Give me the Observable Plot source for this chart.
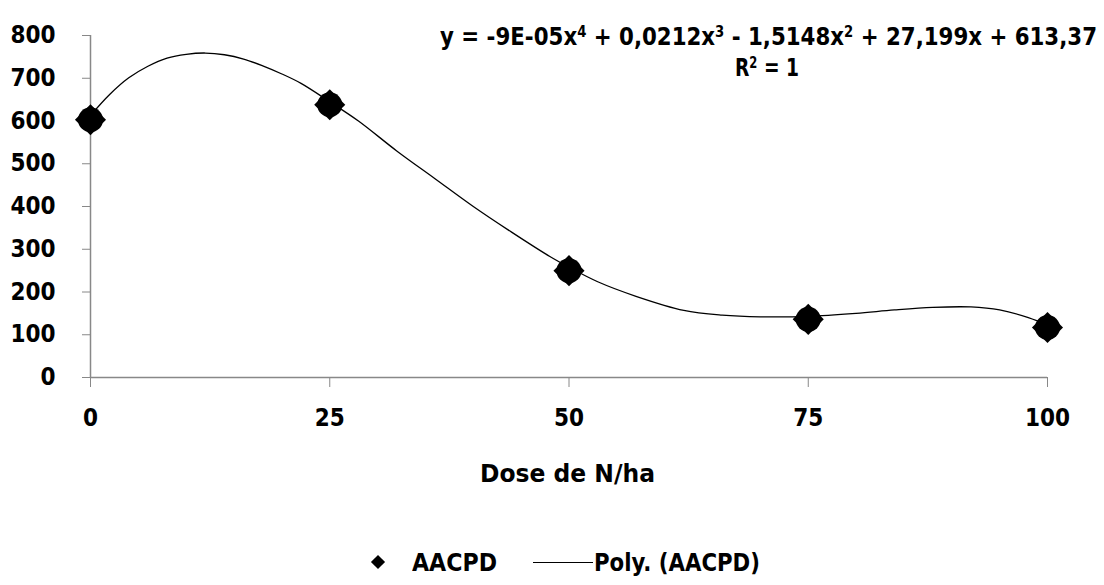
<!DOCTYPE html>
<html><head><meta charset="utf-8">
<script src="https://cdn.jsdelivr.net/npm/d3@7"></script>
<script src="https://cdn.jsdelivr.net/npm/@observablehq/plot@0.6"></script>
<style>
body{margin:0;background:#fff;}
#wrap{position:relative;width:1104px;height:585px;font-family:"Liberation Sans Narrow","DejaVu Sans Condensed",sans-serif;font-weight:bold;color:#000;overflow:hidden;}
.ov{position:absolute;white-space:nowrap;line-height:1;}
sup{font-size:0.62em;line-height:0;vertical-align:0.5em;}
.dm{position:absolute;width:10px;height:10px;background:#000;transform:rotate(45deg);}
.ln{position:absolute;height:0;border-top:1.3px solid #000;}
</style></head><body><div id="wrap"></div>
<script>
const doses = [0, 25, 50, 75, 100];
const aacpd = [603, 638, 250, 136, 117];
const trendX = [0, 2, 4, 6, 8, 10, 12, 14, 16, 18, 20, 22, 25, 28, 32, 36, 40, 44, 48, 50, 53, 57, 62, 66, 70, 75, 80, 84, 88, 92, 95, 98, 100];
const trendY = [613, 662, 701, 728, 747, 756, 759, 755, 745, 729, 710, 688, 645, 600, 530, 465, 400, 340, 283, 258, 224, 190, 157, 146, 142, 143, 150, 158, 164, 165, 158, 140, 122];
const yTicks = [0, 100, 200, 300, 400, 500, 600, 700, 800];
const xTicks = [0, 25, 50, 75, 100];
const xLabel = "Dose de N/ha";
const seriesName = "AACPD";
const trendName = "Poly. (AACPD)";
const equation = "y = -9E-05x<sup>4</sup> + 0,0212x<sup>3</sup> - 1,5148x<sup>2</sup> + 27,199x + 613,37";
const r2 = "R<sup>2</sup> = 1";

const points = doses.map((d, i) => ({dose: d, value: aacpd[i]}));
const trend = trendX.map((d, i) => ({dose: d, value: trendY[i]}));
const FONT = "Liberation Sans Narrow, DejaVu Sans Condensed, sans-serif";

const chart = Plot.plot({
  width: 1104, height: 585,
  marginLeft: 90, marginRight: 57, marginTop: 35, marginBottom: 208,
  style: {fontFamily: FONT, fontSize: "24px", fontWeight: "bold", background: "#fff", color: "#000"},
  x: {domain: [0, 100]},
  y: {domain: [0, 800]},
  marks: [
    Plot.axisY({ticks: yTicks, tickSize: 8, tickPadding: 27, stroke: "#888", fill: "#000", label: null, fontSize: 24, fontWeight: "bold", fontFamily: FONT}),
    Plot.axisX({ticks: xTicks, tickSize: 10, tickPadding: 21, stroke: "#888", fill: "#000", label: null, fontSize: 24, fontWeight: "bold", fontFamily: FONT}),
    Plot.ruleX([0], {stroke: "#888", strokeWidth: 1.5}),
    Plot.ruleY([0], {stroke: "#888", strokeWidth: 1.5}),
    Plot.line(trend, {x: "dose", y: "value", curve: "catmull-rom", stroke: "#000", strokeWidth: 1.3}),
    Plot.dot(points, {x: "dose", y: "value", symbol: "circle", r: 12.5, fill: "#000"}),
    Plot.dot(points, {x: "dose", y: "value", symbol: "diamond2", r: 14, fill: "#000"})
  ]
});

const wrap = document.getElementById("wrap");
wrap.appendChild(chart);
chart.style.position = "absolute"; chart.style.left = "0"; chart.style.top = "0";

function ov(html, fs, left, top, targetW, center) {
  const d = document.createElement("div");
  d.className = "ov"; d.innerHTML = html; d.style.fontSize = fs + "px";
  wrap.appendChild(d);
  if (targetW) {
    const w = d.getBoundingClientRect().width;
    d.style.transform = `scaleX(${targetW / w})`;
    d.style.transformOrigin = "0 0";
    d.style.left = (center ? left - targetW / 2 : left) + "px";
  } else {
    d.style.left = left + "px";
  }
  d.style.top = top + "px";
  return d;
}
ov(equation, 25, 768, 24, 657, true);
ov(r2, 25, 767, 55, 64, true);
ov(xLabel, 25, 567, 461, 175, true);
// legend
const dm = document.createElement("div"); dm.className = "dm"; dm.style.left = "373px"; dm.style.top = "557px"; wrap.appendChild(dm);
ov(seriesName, 25, 412, 550, 85, false);
const ln = document.createElement("div"); ln.className = "ln"; ln.style.left = "533px"; ln.style.width = "60px"; ln.style.top = "562px"; wrap.appendChild(ln);
ov(trendName, 25, 594, 550, 166, false);
</script>
</body></html>
